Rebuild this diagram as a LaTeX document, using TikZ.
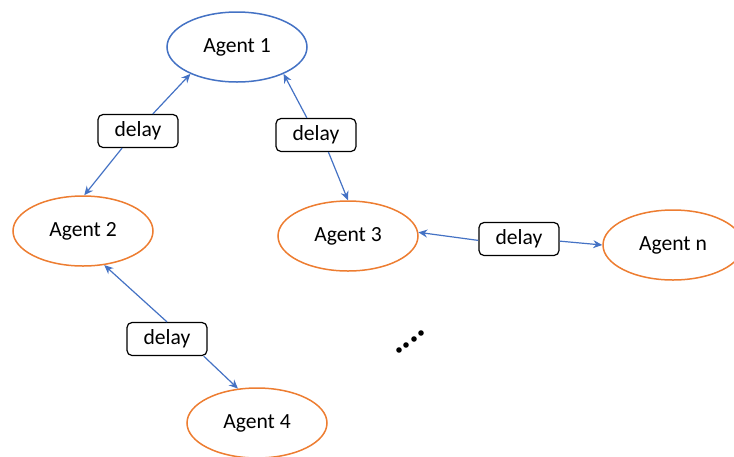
\documentclass[tikz,border=0pt]{standalone}
\usepackage{fontspec}
\setmainfont{Carlito}
\usetikzlibrary{arrows.meta,shapes.geometric}
\definecolor{linkblue}{RGB}{68,114,196}
\definecolor{agentorange}{RGB}{237,125,49}
\tikzset{
  agent/.style={draw=agentorange,line width=0.75pt,ellipse,minimum width=70pt,minimum height=35pt,inner sep=0pt,font=\fontsize{10.8}{12}\selectfont},
  delaybox/.style={draw,line width=0.6pt,rounded corners=2.5pt,minimum width=40pt,minimum height=16.5pt,inner sep=0pt,font=\fontsize{10.8}{12}\selectfont},
  link/.style={draw=linkblue,line width=0.6pt,-{Stealth[length=4.5pt,width=4pt]}}
}
\begin{document}
\begin{tikzpicture}[x=0.5pt,y=-0.5pt]
    \useasboundingbox (0,0) rectangle (734,456);
    \node[agent,draw=linkblue] (a1) at (237,47) {Agent 1};
    \node[agent] (a2) at (83,231) {Agent 2};
    \node[agent] (a3) at (348,236) {Agent 3};
    \node[agent] (an) at (673,245) {Agent n};
    \node[agent] (a4) at (257,423) {Agent 4};
    \node[delaybox] (d1) at (138,131) {delay};
    \node[delaybox] (d2) at (316,135) {delay};
    \node[delaybox] (d3) at (519,239) {delay};
    \node[delaybox] (d4) at (167,339) {delay};
    \draw[link] (d1.49)--(a1.210);
    \draw[link] (d1.227)--(a2.88);
    \draw[link] (d2.118)--(a1.330);
    \draw[link] (d2.-54)--(a3.90);
    \draw[link] (d3.182)--(a3.3);
    \draw[link] (d3.-3)--(an.180);
    \draw[link] (d4.north)--(a2.302);
    \draw[link] (d4.-25)--(a4.119);
    %省略号
    \foreach \p in {(399,350),(406,345),(414,339),(421,333)}
        \fill \p circle(1.4pt);
\end{tikzpicture}
\end{document}
